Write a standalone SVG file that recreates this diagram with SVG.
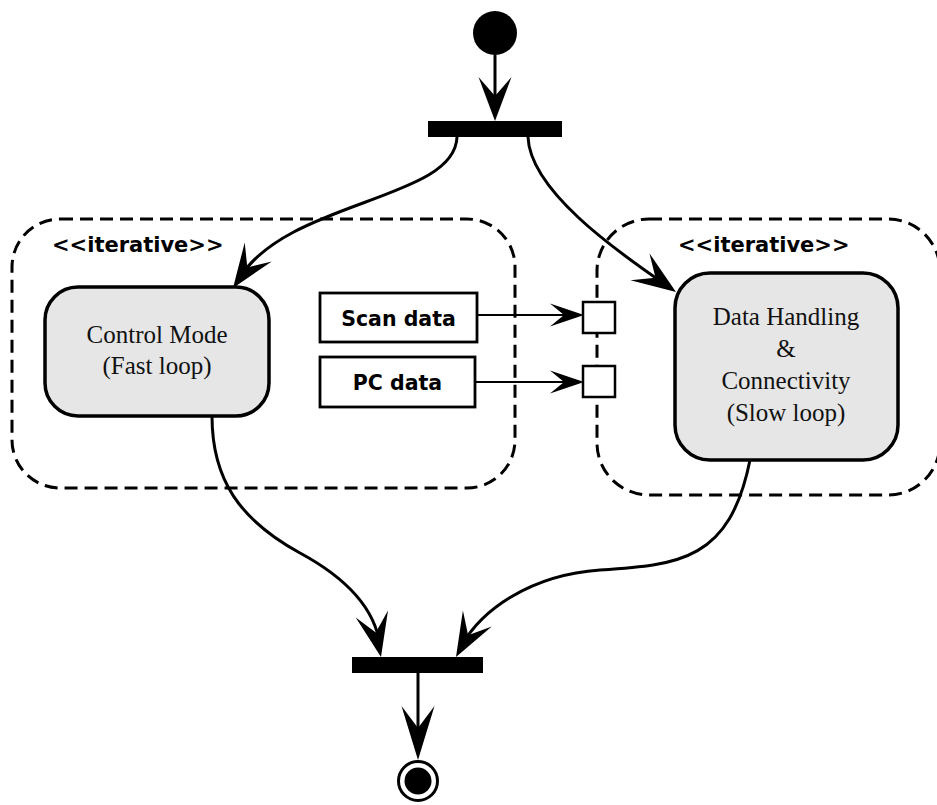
<svg xmlns="http://www.w3.org/2000/svg" xmlns:xlink="http://www.w3.org/1999/xlink" width="937" height="805" viewBox="0 0 937 805">
<style>
.bg{fill:#ffffff}
.cont{fill:none;stroke:#000;stroke-width:3;stroke-dasharray:13 7}
.act{fill:#e6e6e6;stroke:#000;stroke-width:3.5}
.obj{fill:#fff;stroke:#000;stroke-width:2.8}
.pin{fill:#fff;stroke:#000;stroke-width:2.5}
.bar{fill:#000}
.edge{fill:none;stroke:#000;stroke-width:3}
.thin{fill:none;stroke:#000;stroke-width:2}
.head{fill:#000}
.serif{font-family:"Liberation Serif","Times New Roman",serif;font-size:25px;fill:#111;text-anchor:middle}
.bold{font-family:"DejaVu Sans",Verdana,sans-serif;font-weight:bold;font-size:20.5px;fill:#000}
.ster{font-size:21px}
</style>
<defs>
<path id="ah" class="head" d="M0,0 L-44,-16.5 L-25,0 L-44,16.5 Z"/>
<path id="ahl" class="head" d="M0,0 L-54,-16.5 L-32,0 L-54,16.5 Z"/>
<path id="ahs" class="head" d="M0,0 L-34,-11.5 L-20,0 L-34,11.5 Z"/>
</defs>
<rect class="bg" x="0" y="0" width="937" height="805"/>

<g id="loop-fast">
<rect class="cont" x="12" y="219" width="503" height="269" rx="48" ry="48"/>
<text class="bold ster" x="52" y="252">&lt;&lt;iterative&gt;&gt;</text>
</g>
<g id="loop-slow">
<rect class="cont" x="597" y="219" width="343" height="276" rx="52" ry="52"/>
<text class="bold ster" x="678" y="252">&lt;&lt;iterative&gt;&gt;</text>
</g>

<g id="start">
<circle cx="495" cy="33" r="22" fill="#000"/>
</g>
<g id="fork">
<rect class="bar" x="428" y="121" width="134" height="16"/>
</g>
<g id="join">
<rect class="bar" x="352" y="657" width="131" height="16"/>
</g>
<g id="end">
<circle cx="418" cy="781" r="19.5" fill="#fff" stroke="#000" stroke-width="3"/>
<circle cx="418" cy="781" r="13.5" fill="#000"/>
</g>

<g id="control-mode">
<rect class="act" x="45" y="287" width="224" height="129" rx="33" ry="33"/>
<text class="serif" x="157" y="343">Control Mode</text>
<text class="serif" x="157" y="374">(Fast loop)</text>
</g>
<g id="data-handling">
<rect class="act" x="675" y="273" width="223" height="187" rx="35" ry="35"/>
<text class="serif" x="786" y="325">Data Handling</text>
<text class="serif" x="786" y="357">&amp;</text>
<text class="serif" x="786" y="389">Connectivity</text>
<text class="serif" x="786" y="421">(Slow loop)</text>
</g>

<g id="scan-data">
<rect class="obj" x="320" y="293" width="157" height="49"/>
<text class="bold" x="398.5" y="326" text-anchor="middle">Scan data</text>
</g>
<g id="pc-data">
<rect class="obj" x="320" y="357" width="155" height="50"/>
<text class="bold" x="397.5" y="390" text-anchor="middle">PC data</text>
</g>
<g id="pin-scan">
<rect class="pin" x="583" y="302" width="32" height="31"/>
</g>
<g id="pin-pc">
<rect class="pin" x="583" y="366" width="32" height="31"/>
</g>

<g id="connectors">
<path class="edge" d="M495,55 L495,100"/>
<use xlink:href="#ah" href="#ah" transform="translate(495,121) rotate(90)"/>
<path class="edge" d="M457,137 C455,200 290,200 240,277"/>
<use xlink:href="#ah" href="#ah" transform="translate(233,288) rotate(125)"/>
<path class="edge" d="M528,137 C530,190 615,250 666,285"/>
<use xlink:href="#ah" href="#ah" transform="translate(676,292) rotate(35)"/>
<path class="edge" d="M212,416 C212,480 240,520 300,553 C350,580 375,610 380,645"/>
<use xlink:href="#ah" href="#ah" transform="translate(381,657) rotate(78)"/>
<path class="edge" d="M750,460 C730,560 680,565 600,570 C530,575 482,610 462,645"/>
<use xlink:href="#ah" href="#ah" transform="translate(456,657) rotate(119)"/>
<path class="edge" d="M418,673 L418,735"/>
<use xlink:href="#ahl" href="#ahl" transform="translate(418,760) rotate(90)"/>
<path class="thin" d="M477,315 L570,315"/>
<use xlink:href="#ahs" href="#ahs" transform="translate(584,315)"/>
<path class="thin" d="M475,382 L570,382"/>
<use xlink:href="#ahs" href="#ahs" transform="translate(584,382)"/>
</g>
</svg>
